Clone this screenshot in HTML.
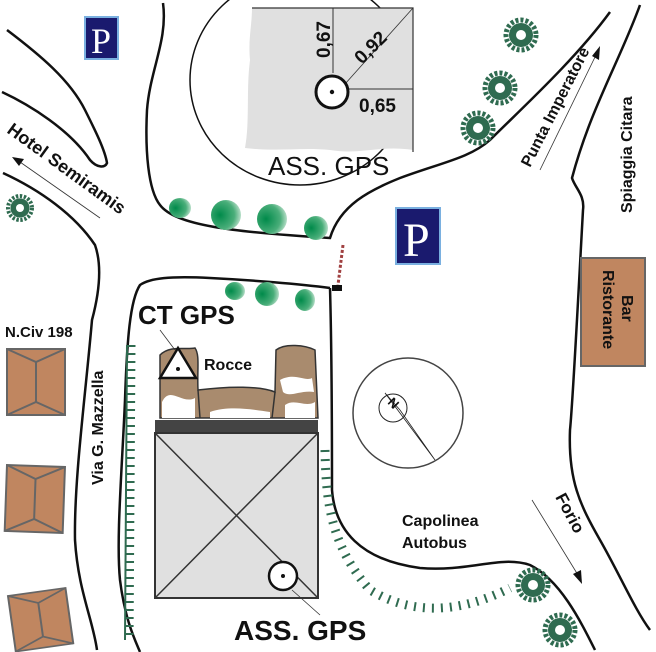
<!DOCTYPE html>
<html><head><meta charset="utf-8"><style>
html,body{margin:0;padding:0;background:#fff;}
svg{display:block;}
text{font-family:"Liberation Sans",sans-serif;font-weight:bold;fill:#111;}
</style></head><body>
<svg width="656" height="652" viewBox="0 0 656 652" xmlns="http://www.w3.org/2000/svg">
<defs>
<radialGradient id="g" cx="0.3" cy="0.5" r="0.8"><stop offset="0" stop-color="#008a4a"/><stop offset="0.6" stop-color="#4aae7a"/><stop offset="1" stop-color="#e6f3ea"/></radialGradient>
<g id="ros"><circle r="12" fill="#2f6b50"/><circle r="15" fill="none" stroke="#2f6b50" stroke-width="5" stroke-dasharray="3 2"/><circle r="5" fill="#fff"/></g>
<g id="house"><rect x="0" y="0" width="58" height="66" fill="#c08660" stroke="#666" stroke-width="2"/><path d="M0 0 L29 13 L58 0 M29 13 L29 53 M0 66 L29 53 L58 66" stroke="#666" stroke-width="2" fill="none"/></g>
</defs>

<ellipse cx="300" cy="80" rx="110" ry="105" fill="#fff" stroke="#111" stroke-width="1.5"/>
<path d="M252 8 L413 8 L413 150 C380 145 360 155 330 150 C300 147 280 152 245 148 C250 120 246 90 250 60 C248 40 252 25 252 8 Z" fill="#e0e0e0"/>
<path d="M252 8 L413 8 L413 152" fill="none" stroke="#333" stroke-width="1.2"/>
<line x1="333" y1="8" x2="333" y2="73" stroke="#333"/>
<line x1="345" y1="84" x2="413" y2="8" stroke="#333" stroke-width="0.8"/>
<line x1="348" y1="89" x2="413" y2="89" stroke="#333"/>
<circle cx="332" cy="92" r="16" fill="#fff" stroke="#111" stroke-width="3"/>
<circle cx="332" cy="92" r="2.2" fill="#111"/>
<text x="0" y="0" font-size="19" transform="translate(330,58) rotate(-90)">0,67</text>
<text x="0" y="0" font-size="19" transform="translate(362,65) rotate(-45)">0,92</text>
<text x="359" y="112" font-size="19">0,65</text>
<text x="268" y="175" font-size="26" style="font-weight:normal">ASS. GPS</text>

<g fill="none" stroke="#111" stroke-width="2.5">
<path d="M7 30 C40 55 70 80 85 110 C95 130 105 150 107 163 C105 168 97 168 90 160 C70 130 30 105 2 92"/>
<path d="M3 173 C40 190 75 215 95 245 C102 265 100 290 92 320 C85 400 74 480 75 540 C78 590 93 620 97 650"/>
<path d="M163 3 C168 40 150 70 147 110 C145 150 148 190 160 205 C175 225 230 232 330 238 C340 205 370 190 400 178 C440 163 470 158 490 140 C520 110 575 60 610 12"/>
<path d="M640 5 C620 60 590 110 572 178 C575 188 585 195 583 210 C578 300 573 400 570 430 C568 480 580 505 600 540 C620 575 635 610 650 630"/>
<path d="M330 288 C300 284 250 280 210 278 C170 276 150 278 140 285 C130 300 127 340 125 400 C122 470 116 540 120 580 C125 620 135 640 140 652"/>
<path d="M330 288 C332 360 332 430 332 490 C335 530 360 560 420 568 C470 572 500 555 530 565 C560 580 580 620 595 650"/>
</g>

<line x1="343" y1="245" x2="338" y2="285" stroke="#a04040" stroke-width="3" stroke-dasharray="3 2"/>
<rect x="332" y="285" width="10" height="6" fill="#111"/>

<path d="M131 345 L129 640" stroke="#2f6b50" stroke-width="9" stroke-dasharray="2 6" fill="none"/>
<path d="M127 345 L125 640" stroke="#2f6b50" stroke-width="2" fill="none"/>
<path d="M325 450 C326 500 330 545 370 590 C420 620 470 608 510 588" stroke="#2f6b50" stroke-width="9" stroke-dasharray="2 7" fill="none"/>

<g fill="url(#g)">
<ellipse cx="180" cy="208" rx="11" ry="10"/><ellipse cx="226" cy="215" rx="15" ry="15"/><ellipse cx="272" cy="219" rx="15" ry="15"/><ellipse cx="316" cy="228" rx="12" ry="12"/>
<ellipse cx="235" cy="291" rx="10" ry="9"/><ellipse cx="267" cy="294" rx="12" ry="12"/><ellipse cx="305" cy="300" rx="10" ry="11"/>
</g>
<use href="#ros" x="521" y="35"/><use href="#ros" x="500" y="88"/><use href="#ros" x="478" y="128"/>
<g transform="translate(20,208) scale(0.8)"><use href="#ros"/></g>
<use href="#ros" x="533" y="585"/><use href="#ros" x="560" y="630"/>

<rect x="85" y="17" width="33" height="42" fill="#1a1a6e" stroke="#7ab0e0" stroke-width="2"/>
<text x="91" y="53" font-size="36" style="font-family:'Liberation Serif',serif;font-weight:normal;fill:#fff">P</text>
<rect x="396" y="208" width="44" height="56" fill="#1a1a6e" stroke="#7ab0e0" stroke-width="2"/>
<text x="403" y="256" font-size="48" style="font-family:'Liberation Serif',serif;font-weight:normal;fill:#fff">P</text>

<text x="5" y="337" font-size="15">N.Civ 198</text>
<use href="#house" x="7" y="349"/>
<use href="#house" transform="translate(7,465) rotate(2)"/>
<use href="#house" transform="translate(8,596) rotate(-8) scale(1,0.85)"/>

<rect x="581" y="258" width="64" height="108" fill="#c08660" stroke="#666" stroke-width="2"/>
<text font-size="16" transform="translate(622,295) rotate(90)">Bar</text>
<text font-size="16" transform="translate(603,270) rotate(90)">Ristorante</text>

<path d="M160 418 L160 355 C170 345 185 350 195 348 C200 355 197 370 198 390 C230 386 260 386 275 392 L276 350 C285 343 305 345 315 350 L318 418 Z" fill="#a98b6e" stroke="#333" stroke-width="1.5"/>
<path d="M198 390 L200 418 M275 392 L272 418" stroke="#333" stroke-width="1.5"/>
<path d="M162 402 C170 385 182 405 195 398 L195 418 L162 418Z M280 380 C295 372 305 382 312 378 L314 392 C300 390 290 398 283 392Z M210 412 C230 405 255 410 270 412 L270 418 L210 418Z M285 405 C295 398 305 408 315 402 L315 418 L285 418Z" fill="#fff"/>
<path d="M160 378 L178 348 L196 378 Z" fill="#fff" stroke="#111" stroke-width="2.5"/>
<circle cx="178" cy="369" r="2" fill="#111"/>
<line x1="160" y1="330" x2="175" y2="350" stroke="#333" stroke-width="0.8"/>
<text x="138" y="324" font-size="26">CT GPS</text>
<text x="204" y="370" font-size="16">Rocce</text>

<rect x="155" y="420" width="163" height="13" fill="#444"/>
<rect x="155" y="433" width="163" height="165" fill="#e0e0e0" stroke="#333" stroke-width="2"/>
<path d="M155 433 L318 598 M318 433 L155 598" stroke="#333" stroke-width="1.5"/>
<circle cx="283" cy="576" r="14" fill="#fff" stroke="#111" stroke-width="2.5"/>
<circle cx="283" cy="576" r="2" fill="#111"/>
<line x1="292" y1="590" x2="320" y2="615" stroke="#333" stroke-width="0.8"/>
<text x="234" y="640" font-size="28">ASS. GPS</text>

<circle cx="408" cy="413" r="55" fill="none" stroke="#444" stroke-width="1.5"/>
<circle cx="393" cy="408" r="14" fill="none" stroke="#222"/>
<path d="M385 393 L435 460 L400 410 Z" fill="none" stroke="#222" stroke-width="0.8"/>
<text font-size="13" transform="translate(387,403) rotate(45)">N</text>

<text font-size="18" transform="translate(6,132) rotate(36)">Hotel Semiramis</text>
<line x1="100" y1="218" x2="20" y2="162" stroke="#333" stroke-width="0.8"/>
<path d="M12 157 L24 159 L19 166 Z" fill="#111"/>
<text font-size="16" transform="translate(530,168) rotate(-63)">Punta Imperatore</text>
<line x1="540" y1="170" x2="596" y2="55" stroke="#333" stroke-width="0.8"/>
<path d="M600 46 L599 60 L592 56 Z" fill="#111"/>
<text font-size="16" transform="translate(632,213) rotate(-90)">Spiaggia Citara</text>
<text font-size="16" transform="translate(103,485) rotate(-90)">Via G. Mazzella</text>
<text font-size="17" transform="translate(555,497) rotate(62)">Forio</text>
<line x1="532" y1="500" x2="578" y2="575" stroke="#333" stroke-width="0.8"/>
<path d="M582 584 L573 574 L581 570 Z" fill="#111"/>
<text x="402" y="526" font-size="16">Capolinea</text>
<text x="402" y="548" font-size="16">Autobus</text>
</svg>
</body></html>
